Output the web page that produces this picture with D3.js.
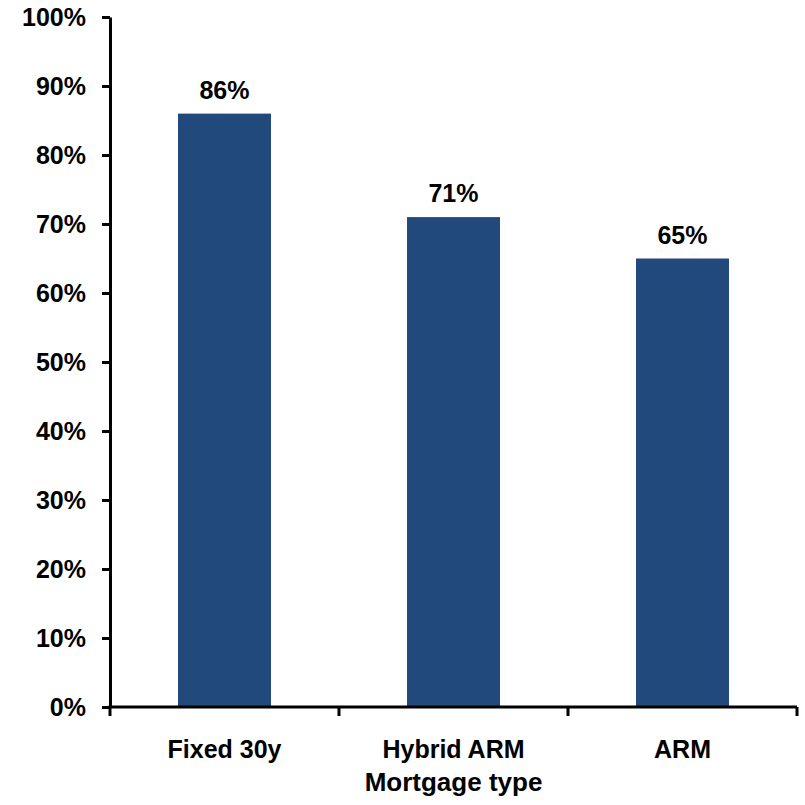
<!DOCTYPE html>
<html>
<head>
<meta charset="utf-8">
<script src="https://cdn.jsdelivr.net/npm/d3@7/dist/d3.min.js"></script>
<style>
  html, body { margin: 0; padding: 0; background: #fff; }
  svg { display: block; font-family: "Liberation Sans", Arial, sans-serif; font-weight: bold; }
</style>
</head>
<body>
<svg id="chart" width="805" height="805"></svg>
<script>
// Share of loans by mortgage type
const categories = ["Fixed 30y", "Hybrid ARM", "ARM"];
const shares = [86, 71, 65];
const yTicks = [0, 10, 20, 30, 40, 50, 60, 70, 80, 90, 100];
const xTitle = "Mortgage type";

const svg = d3.select("#chart");
const plot = { left: 110, right: 797, top: 17, bottom: 707 };

const x = d3.scaleBand()
  .domain(categories)
  .range([plot.left, plot.right])
  .paddingInner(0.594)
  .paddingOuter(0.297);

const y = d3.scaleLinear()
  .domain([0, 100])
  .range([plot.bottom, plot.top]);

// Bars
svg.append("g")
  .selectAll("rect")
  .data(categories)
  .join("rect")
  .attr("x", d => x(d))
  .attr("width", x.bandwidth())
  .attr("y", (d, i) => y(shares[i]))
  .attr("height", (d, i) => y(0) - y(shares[i]))
  .attr("fill", "#21497C");

// Value labels
svg.append("g")
  .selectAll("text")
  .data(categories)
  .join("text")
  .attr("x", d => x(d) + x.bandwidth() / 2)
  .attr("y", (d, i) => y(shares[i]) - 15)
  .attr("text-anchor", "middle")
  .attr("font-size", 25)
  .attr("fill", "#000")
  .text((d, i) => shares[i] + "%");

// Y axis
const yAxis = svg.append("g")
  .attr("transform", `translate(${plot.left},0)`)
  .call(d3.axisLeft(y).tickValues(yTicks).tickFormat(d => d + "%").tickSize(8).tickSizeOuter(0).tickPadding(16));
yAxis.select(".domain").attr("stroke", "#000").attr("stroke-width", 3);
yAxis.selectAll(".tick line").attr("stroke", "#000").attr("stroke-width", 3);
yAxis.selectAll(".tick text")
  .attr("font-size", 25)
  .attr("font-family", "Liberation Sans, Arial, sans-serif")
  .attr("font-weight", "bold")
  .attr("fill", "#000");

// X axis with ticks on band boundaries
const step = x.step();
const bounds = d3.range(categories.length + 1).map(i => plot.left + i * step);
const xAxis = svg.append("g");
xAxis.append("line")
  .attr("x1", plot.left - 1.5).attr("x2", plot.right)
  .attr("y1", y(0)).attr("y2", y(0))
  .attr("stroke", "#000").attr("stroke-width", 3);
xAxis.selectAll("line.bound")
  .data(bounds)
  .join("line")
  .attr("class", "bound")
  .attr("x1", d => d).attr("x2", d => d)
  .attr("y1", y(0)).attr("y2", y(0) + 9)
  .attr("stroke", "#000").attr("stroke-width", 3);
xAxis.selectAll("text.cat")
  .data(categories)
  .join("text")
  .attr("class", "cat")
  .attr("x", d => x(d) + x.bandwidth() / 2)
  .attr("y", 758)
  .attr("text-anchor", "middle")
  .attr("font-size", 25)
  .attr("fill", "#000")
  .text(d => d);

// X axis title
svg.append("text")
  .attr("x", (plot.left + plot.right) / 2)
  .attr("y", 791)
  .attr("text-anchor", "middle")
  .attr("font-size", 26)
  .attr("fill", "#000")
  .text(xTitle);
</script>
</body>
</html>
